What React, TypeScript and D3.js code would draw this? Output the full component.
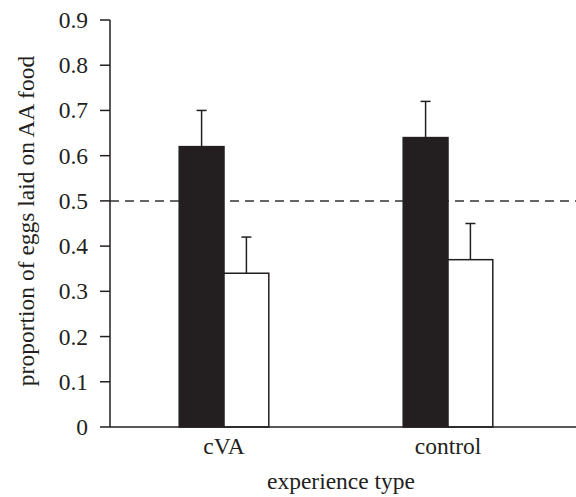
import * as React from "react";
import * as d3 from "d3";

// experience groups and the two bars in each
const categories: string[] = ["cVA", "control"];
const series: string[] = ["dark", "light"];
const means: number[][] = [
    [0.62, 0.34],
    [0.64, 0.37],
];
const errorTops: number[][] = [
    [0.70, 0.42],
    [0.72, 0.45],
];
const yTicks: number[] = [0, 0.1, 0.2, 0.3, 0.4, 0.5, 0.6, 0.7, 0.8, 0.9];
const chance: number = 0.5;

export default function App() {
    let width = 576;
    let height = 497;
    let left = 110;
    let right = 576;
    let top = 20;
    let bottom = 427;

    let y = d3.scaleLinear().domain([0, 0.9]).range([bottom, top]);
    let x = d3.scaleBand<string>().domain(categories).range([112, 560]).paddingInner(0.6).paddingOuter(0.3);
    let inner = d3.scaleBand<string>().domain(series).range([0, x.bandwidth()]);

    let textStyle = { fontFamily: "Liberation Serif, DejaVu Serif, serif", fontSize: "23.5px" };
    let ink = "#231f20";
    let capHalf = 5;

    return (
        <svg width={width} height={height} style={{ position: "absolute", left: 0, top: 0 }}>
            <rect width={width} height={height} fill="#fff" />
            {/* dashed chance line */}
            <line x1={left} x2={right} y1={y(chance)} y2={y(chance)} stroke="#333" strokeWidth={1.5} strokeDasharray="9,6" />

            {categories.map((c, i) => (
                <g key={c}>
                    {series.map((s, j) => {
                        let bx = (x(c) as number) + (inner(s) as number);
                        let bw = inner.bandwidth();
                        let cx = bx + bw / 2;
                        return (
                            <g key={s}>
                                <line x1={cx} x2={cx} y1={y(means[i][j])} y2={y(errorTops[i][j])} stroke={ink} strokeWidth={1.5} />
                                <line x1={cx - capHalf} x2={cx + capHalf} y1={y(errorTops[i][j])} y2={y(errorTops[i][j])} stroke={ink} strokeWidth={1.5} />
                                <rect x={bx} y={y(means[i][j])} width={bw} height={bottom - y(means[i][j])}
                                    fill={j === 0 ? ink : "#fff"} stroke={ink} strokeWidth={1.5} />
                            </g>
                        );
                    })}
                    <text x={(x(c) as number) + x.bandwidth() / 2} y={454} textAnchor="middle"
                        style={textStyle} fill={ink}>{c}</text>
                </g>
            ))}

            {/* axes */}
            <line x1={left} x2={left} y1={top} y2={bottom} stroke={ink} strokeWidth={1.5} />
            <line x1={left} x2={right} y1={bottom} y2={bottom} stroke={ink} strokeWidth={1.5} />
            {yTicks.map(t => (
                <g key={t} transform={`translate(0, ${y(t)})`}>
                    <line x1={left - 10} x2={left} stroke={ink} strokeWidth={1.5} />
                    <text x={88} dy="0.34em" textAnchor="end" style={textStyle} fill={ink}>
                        {t === 0 ? "0" : d3.format(".1f")(t)}
                    </text>
                </g>
            ))}

            <text x={341} y={489} textAnchor="middle" style={textStyle} fill={ink}>experience type</text>
            <text transform="translate(34, 221) rotate(-90)" textAnchor="middle"
                style={textStyle} fill={ink}>proportion of eggs laid on AA food</text>
        </svg>
    );
}
